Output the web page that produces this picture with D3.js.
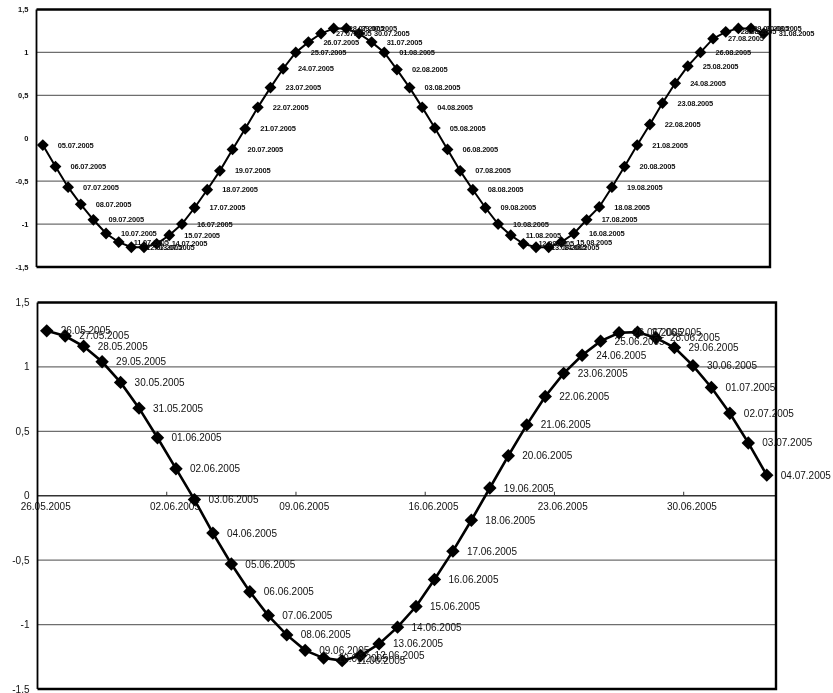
<!DOCTYPE html>
<html>
<head>
<meta charset="utf-8">
<script src="https://cdn.jsdelivr.net/npm/d3@7/dist/d3.min.js"></script>
<style>
  html, body { margin: 0; padding: 0; background: #fff; }
  /* greyscale: the small labels otherwise get colour fringes */
  svg { display: block; filter: grayscale(1); }
</style>
</head>
<body>
<svg id="chart" width="833" height="693"></svg>
<script>
// upper panel: 05.07 – 31.08.2005
const topDates = [
  "05.07.2005","06.07.2005","07.07.2005","08.07.2005","09.07.2005","10.07.2005","11.07.2005",
  "12.07.2005","13.07.2005","14.07.2005","15.07.2005","16.07.2005","17.07.2005","18.07.2005",
  "19.07.2005","20.07.2005","21.07.2005","22.07.2005","23.07.2005","24.07.2005","25.07.2005",
  "26.07.2005","27.07.2005","28.07.2005","29.07.2005","30.07.2005","31.07.2005","01.08.2005",
  "02.08.2005","03.08.2005","04.08.2005","05.08.2005","06.08.2005","07.08.2005","08.08.2005",
  "09.08.2005","10.08.2005","11.08.2005","12.08.2005","13.08.2005","14.08.2005","15.08.2005",
  "16.08.2005","17.08.2005","18.08.2005","19.08.2005","20.08.2005","21.08.2005","22.08.2005",
  "23.08.2005","24.08.2005","25.08.2005","26.08.2005","27.08.2005","28.08.2005","29.08.2005",
  "30.08.2005","31.08.2005"
];
const topValues = [
  -0.08, -0.33, -0.57, -0.77, -0.95, -1.11, -1.21,
  -1.27, -1.27, -1.23, -1.13, -1.00, -0.81, -0.60,
  -0.38, -0.13, 0.11, 0.36, 0.59, 0.81, 1.00,
  1.12, 1.22, 1.28, 1.28, 1.22, 1.12, 1.00,
  0.80, 0.59, 0.36, 0.12, -0.13, -0.38, -0.60,
  -0.81, -1.00, -1.13, -1.23, -1.27, -1.27, -1.21,
  -1.11, -0.95, -0.80, -0.57, -0.33, -0.08, 0.16,
  0.41, 0.64, 0.84, 1.00, 1.16, 1.24, 1.28,
  1.28, 1.22
];

// lower panel: 26.05 – 04.07.2005
const botDates = [
  "26.05.2005","27.05.2005","28.05.2005","29.05.2005","30.05.2005","31.05.2005","01.06.2005",
  "02.06.2005","03.06.2005","04.06.2005","05.06.2005","06.06.2005","07.06.2005","08.06.2005",
  "09.06.2005","10.06.2005","11.06.2005","12.06.2005","13.06.2005","14.06.2005","15.06.2005",
  "16.06.2005","17.06.2005","18.06.2005","19.06.2005","20.06.2005","21.06.2005","22.06.2005",
  "23.06.2005","24.06.2005","25.06.2005","26.06.2005","27.06.2005","28.06.2005","29.06.2005",
  "30.06.2005","01.07.2005","02.07.2005","03.07.2005","04.07.2005"
];
const botValues = [
  1.28, 1.24, 1.16, 1.04, 0.88, 0.68, 0.45,
  0.21, -0.03, -0.29, -0.53, -0.745, -0.93, -1.08,
  -1.20, -1.26, -1.28, -1.24, -1.15, -1.02, -0.86,
  -0.65, -0.43, -0.19, 0.06, 0.31, 0.55, 0.77,
  0.95, 1.09, 1.20, 1.265, 1.27, 1.225, 1.15,
  1.01, 0.84, 0.64, 0.41, 0.16
];
// labels under the lower axis
const botTickLabels = ["26.05.2005","02.06.2005","09.06.2005","16.06.2005","23.06.2005","30.06.2005"];

const yTicks = [1.5, 1, 0.5, 0, -0.5, -1, -1.5];
const gridVals = [1, 0.5, -0.5, -1];
const fmtY = v => String(v).replace(".", ",");
const FONT = "'Liberation Sans', Arial, sans-serif";

const svg = d3.select("#chart");
svg.append("rect").attr("width", 833).attr("height", 693).attr("fill", "#fff");

function panel(o) {
  const g = svg.append("g");
  const x = d3.scaleBand().domain(o.dates).range([o.L, o.R]).padding(0);
  const y = d3.scaleLinear().domain([-1.5, 1.5]).range([o.B, o.T]);
  const cx = d => x(d) + x.bandwidth() / 2;

  // gridlines
  gridVals.forEach(v => {
    g.append("line").attr("x1", o.L).attr("x2", o.R).attr("y1", y(v)).attr("y2", y(v))
      .attr("stroke", "#6e6e6e").attr("stroke-width", 1.2);
  });

  // y labels
  yTicks.forEach(v => {
    g.append("text").attr("x", o.L - 8).attr("y", y(v)).attr("dy", "0.35em")
      .attr("text-anchor", "end")
      .attr("style", `font:${o.axisWeight} ${o.fs}px ${FONT};fill:#111`)
      .text(fmtY(v));
  });

  // x axis at zero (lower panel only)
  if (o.axis) {
    g.append("line").attr("x1", o.L).attr("x2", o.R).attr("y1", y(0)).attr("y2", y(0))
      .attr("stroke", "#333").attr("stroke-width", 1.3);
    o.axis.forEach(lab => {
      g.append("line").attr("x1", x(lab)).attr("x2", x(lab))
        .attr("y1", y(0)).attr("y2", y(0) - 4).attr("stroke", "#333").attr("stroke-width", 1);
      g.append("text").attr("x", cx(lab) - 1).attr("y", y(0) + 14)
        .attr("text-anchor", "middle")
        .attr("style", `font:${o.fs}px ${FONT};fill:#111`).text(lab);
    });
  }

  // frame
  g.append("path")
    .attr("d", `M${o.L},${o.T}H${o.R}V${o.B}H${o.L}`)
    .attr("fill", "none").attr("stroke", "#000").attr("stroke-width", 2.4);
  g.append("line").attr("x1", o.L).attr("x2", o.L).attr("y1", o.T).attr("y2", o.B)
    .attr("stroke", "#000").attr("stroke-width", 1.8);

  const pts = o.dates.map((d, i) => ({ d, v: o.values[i] }));
  g.append("path").datum(pts)
    .attr("d", d3.line().x(p => cx(p.d)).y(p => y(p.v)))
    .attr("fill", "none").attr("stroke", "#000").attr("stroke-width", o.lw);

  const sym = d3.symbol().type(d3.symbolSquare).size(o.ms);
  g.selectAll(null).data(pts).join("path")
    .attr("d", sym)
    .attr("transform", p => `translate(${cx(p.d)},${y(p.v)}) rotate(45)`)
    .attr("fill", "#000");

  g.selectAll(null).data(pts).join("text")
    .attr("x", p => cx(p.d) + o.dx).attr("y", p => y(p.v)).attr("dy", "0.35em")
    .attr("style", `font:${o.labWeight} ${o.lfs}px ${FONT};fill:#111;letter-spacing:${o.ls}px`)
    .text(p => p.d);
}

panel({
  L: 36.5, R: 770, T: 9.5, B: 267,
  dates: topDates, values: topValues,
  fs: 7.5, axisWeight: "bold", lfs: 7.5, labWeight: "bold", ls: -0.2,
  dx: 15, ms: 70, lw: 2
});

panel({
  L: 37.5, R: 776, T: 302.5, B: 689,
  dates: botDates, values: botValues, axis: botTickLabels,
  fs: 10, axisWeight: "normal", lfs: 10, labWeight: "normal", ls: 0,
  dx: 14, ms: 90, lw: 2.6
});
</script>
</body>
</html>
